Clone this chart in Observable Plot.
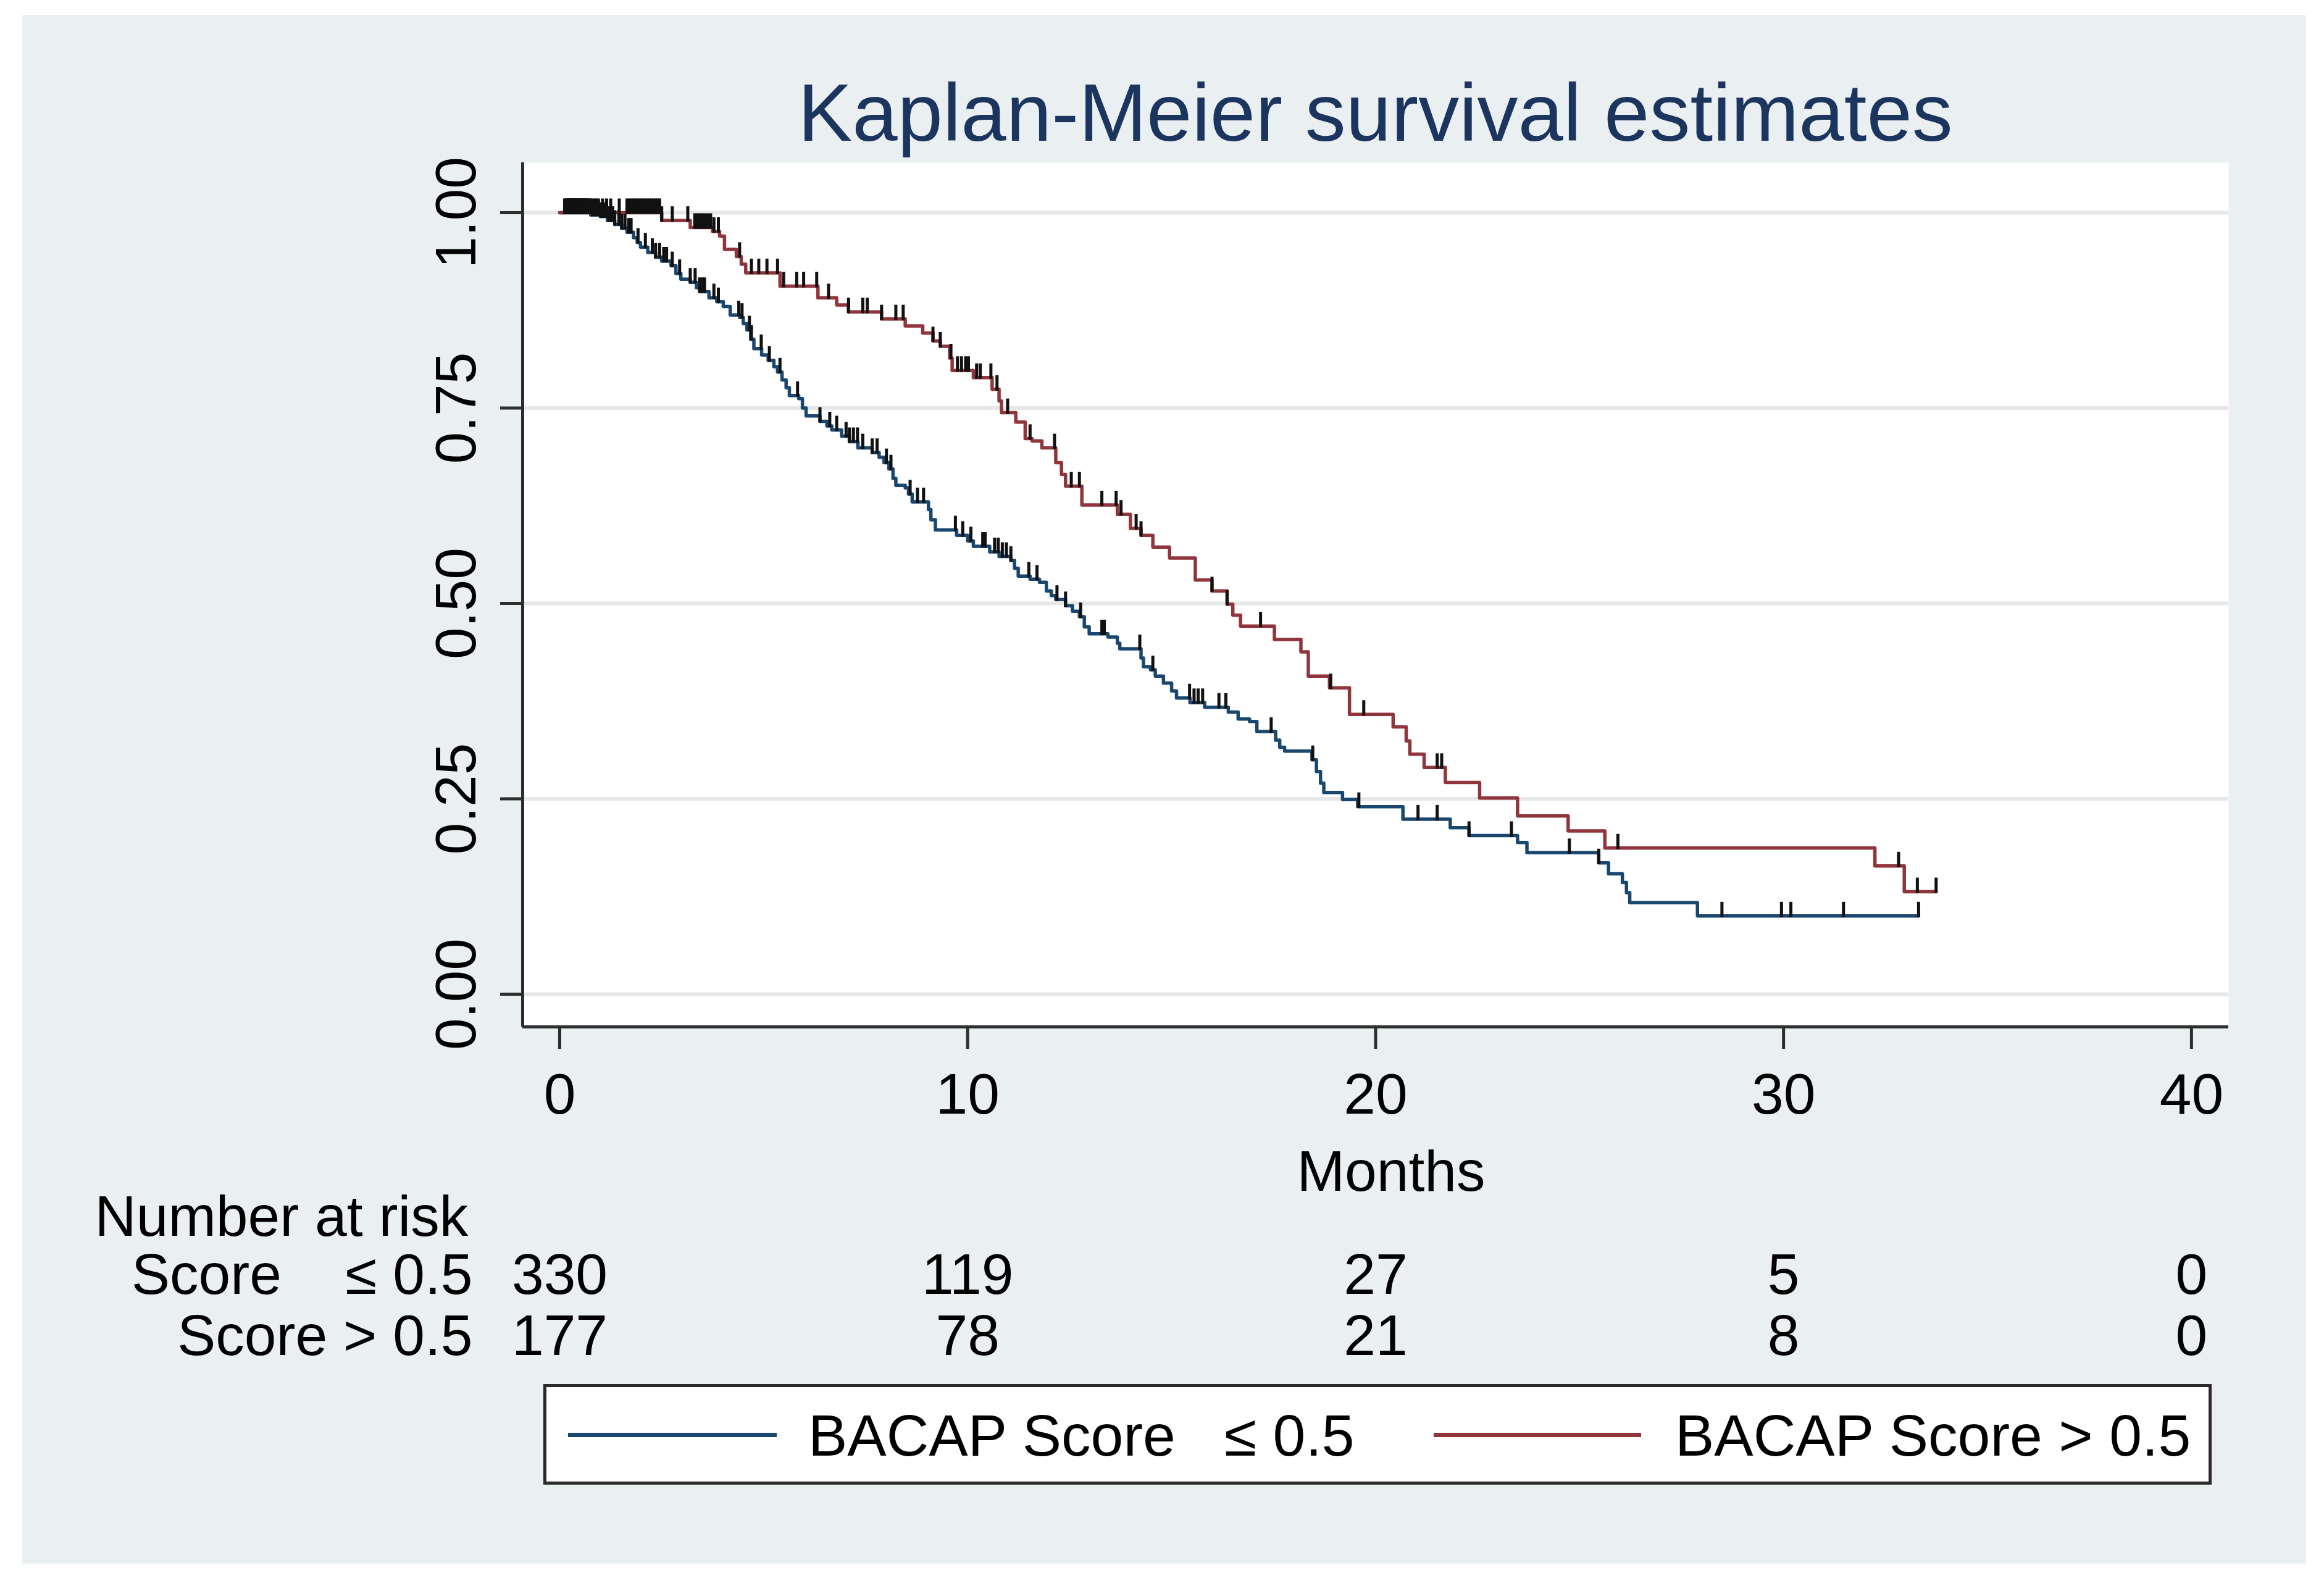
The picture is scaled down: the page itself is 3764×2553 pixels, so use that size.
<!DOCTYPE html>
<html>
<head>
<meta charset="utf-8">
<script src="https://cdn.jsdelivr.net/npm/d3@7"></script>
<script src="https://cdn.jsdelivr.net/npm/@observablehq/plot@0.6"></script>
<style>
  html, body { margin: 0; padding: 0; background: #fff; }
  #page { position: relative; width: 3764px; height: 2553px; background: #fff; overflow: hidden;
          font-family: "Liberation Sans", Arial, sans-serif; color: #000; }
  #panel { position: absolute; left: 36px; top: 24px; width: 3699px; height: 2509px; background: #eaf0f2; }
  #title { position: absolute; left: 846px; width: 2763px; top: 117px; text-align: center;
           font-size: 132px; line-height: 132px; color: #1c355e; white-space: pre; }
  #main, #risk { position: absolute; left: 0; }
  #main { top: 0; }
  #risk { top: 1930px; }
  #legend { position: absolute; left: 880px; top: 2242px; width: 2702px; height: 163px; box-sizing: border-box;
            border: 5px solid #2a2a2a; background: #fff; }
  .sw { position: absolute; height: 7px; top: 74px; }
  .lt { position: absolute; top: 31px; font-size: 95px; line-height: 95px; white-space: pre; }
  svg text { white-space: pre; }
</style>
</head>
<body>
<div id="page">
  <div id="panel"></div>
  <div id="title"></div>
  <div id="main"></div>
  <div id="risk"></div>
  <div id="legend"></div>
</div>
<script>
// ---------------- data ----------------
const titleText = "Kaplan-Meier survival estimates";
const xTitle = "Months";
const monthTicks = [0, 10, 20, 30, 40];
const survTicks = [0, 0.25, 0.5, 0.75, 1];

// BACAP Score <= 0.5 : step-after survival estimate (time in months, survival)
const lowT = [0, 0.76, 1.00, 1.17, 1.35, 1.52, 1.65, 1.81, 1.90, 1.98, 2.16, 2.35, 2.50, 2.73, 2.85, 2.97, 3.20, 3.35, 3.43, 3.66, 3.85, 4.01, 4.18, 4.41, 4.50, 4.59, 4.68, 4.76, 4.95, 5.11, 5.25, 5.34, 5.45, 5.55, 5.63, 5.86, 5.95, 6.04, 6.38, 6.55, 6.67, 6.91, 7.10, 7.31, 7.66, 7.83, 7.95, 8.07, 8.17, 8.24, 8.47, 8.55, 8.64, 9.04, 9.10, 9.21, 9.73, 10.00, 10.14, 10.54, 10.77, 11.06, 11.15, 11.24, 11.53, 11.76, 11.93, 12.05, 12.16, 12.40, 12.57, 12.74, 12.86, 12.98, 13.44, 13.67, 13.73, 14.25, 14.31, 14.48, 14.60, 14.80, 15.00, 15.12, 15.45, 15.81, 16.39, 16.63, 16.91, 17.09, 17.55, 17.65, 17.77, 18.44, 18.55, 18.65, 18.73, 19.19, 19.56, 20.67, 21.83, 22.29, 23.48, 23.71, 25.47, 25.71, 26.05, 26.15, 26.23, 27.89, 33.31];
const lowS = [1.000, 0.997, 0.995, 0.990, 0.985, 0.980, 0.975, 0.968, 0.962, 0.956, 0.949, 0.943, 0.938, 0.932, 0.922, 0.915, 0.911, 0.904, 0.899, 0.891, 0.886, 0.880, 0.869, 0.866, 0.858, 0.850, 0.838, 0.826, 0.818, 0.811, 0.803, 0.796, 0.786, 0.776, 0.766, 0.762, 0.750, 0.740, 0.733, 0.727, 0.722, 0.714, 0.707, 0.699, 0.693, 0.687, 0.680, 0.672, 0.660, 0.651, 0.648, 0.640, 0.630, 0.620, 0.607, 0.594, 0.587, 0.580, 0.573, 0.566, 0.560, 0.555, 0.545, 0.535, 0.531, 0.527, 0.516, 0.510, 0.505, 0.497, 0.490, 0.483, 0.470, 0.461, 0.457, 0.449, 0.442, 0.430, 0.419, 0.415, 0.407, 0.398, 0.388, 0.379, 0.373, 0.367, 0.361, 0.352, 0.349, 0.336, 0.325, 0.316, 0.311, 0.300, 0.285, 0.270, 0.258, 0.249, 0.240, 0.224, 0.213, 0.203, 0.194, 0.181, 0.168, 0.154, 0.143, 0.130, 0.117, 0.100, 0.100];
const lowCensored = [0.12, 0.17, 0.20, 0.23, 0.25, 0.28, 0.30, 0.33, 0.35, 0.38, 0.40, 0.43, 0.45, 0.48, 0.50, 0.53, 0.55, 0.58, 0.60, 0.63, 0.65, 0.70, 0.74, 0.80, 0.85, 0.90, 0.95, 1.00, 1.05, 1.10, 1.15, 1.20, 1.25, 1.30, 1.35, 1.45, 1.52, 1.60, 1.69, 1.75, 1.92, 2.10, 2.27, 2.35, 2.45, 2.55, 2.62, 2.76, 2.94, 3.20, 3.32, 3.43, 3.50, 3.55, 3.78, 3.89, 4.39, 4.47, 4.65, 4.70, 4.94, 5.14, 5.40, 5.83, 6.38, 6.62, 6.79, 7.02, 7.10, 7.20, 7.30, 7.43, 7.66, 7.78, 8.01, 8.12, 8.59, 8.77, 8.92, 9.70, 9.88, 10.08, 10.37, 10.43, 10.66, 10.75, 10.85, 10.95, 11.06, 11.50, 11.70, 12.19, 12.40, 12.77, 13.29, 13.35, 14.22, 14.54, 15.44, 15.55, 15.65, 15.76, 16.16, 16.33, 17.44, 18.46, 19.59, 21.04, 21.51, 22.29, 23.33, 24.75, 25.47, 28.49, 29.95, 30.18, 31.47, 33.31];

// BACAP Score > 0.5
const highT = [0, 2.50, 3.20, 3.75, 3.92, 4.04, 4.33, 4.45, 4.56, 5.40, 6.33, 6.79, 7.08, 7.89, 8.47, 8.90, 9.15, 9.33, 9.56, 9.62, 10.14, 10.60, 10.77, 10.83, 11.18, 11.41, 11.58, 11.82, 12.16, 12.30, 12.40, 12.80, 13.67, 13.99, 14.25, 14.54, 14.95, 15.58, 15.99, 16.36, 16.50, 16.69, 17.52, 18.17, 18.35, 18.87, 19.36, 20.43, 20.75, 20.84, 21.19, 21.71, 22.55, 23.48, 24.72, 25.62, 32.24, 32.96, 33.74];
const highS = [1.000, 0.990, 0.981, 0.976, 0.970, 0.953, 0.944, 0.934, 0.923, 0.906, 0.891, 0.882, 0.873, 0.864, 0.855, 0.846, 0.836, 0.829, 0.814, 0.798, 0.789, 0.774, 0.759, 0.744, 0.732, 0.711, 0.708, 0.699, 0.680, 0.665, 0.650, 0.626, 0.614, 0.596, 0.587, 0.572, 0.558, 0.530, 0.516, 0.499, 0.485, 0.471, 0.454, 0.438, 0.407, 0.392, 0.358, 0.342, 0.324, 0.307, 0.290, 0.271, 0.251, 0.228, 0.209, 0.187, 0.164, 0.131, 0.131];
const highCensored = [0.15, 0.20, 0.25, 0.28, 0.30, 0.33, 0.35, 0.38, 0.40, 0.43, 0.45, 0.48, 0.50, 0.55, 0.60, 0.65, 0.70, 0.75, 0.80, 0.85, 0.90, 0.95, 1.05, 1.15, 1.25, 1.46, 1.65, 1.70, 1.75, 1.80, 1.85, 1.90, 1.95, 2.00, 2.05, 2.10, 2.15, 2.20, 2.25, 2.30, 2.35, 2.40, 2.45, 2.50, 2.76, 3.14, 3.31, 3.36, 3.40, 3.45, 3.50, 3.55, 3.60, 3.65, 3.70, 3.78, 3.89, 4.41, 4.70, 4.88, 5.08, 5.34, 5.49, 5.81, 5.98, 6.30, 6.59, 7.08, 7.43, 7.54, 7.89, 8.24, 8.42, 9.15, 9.33, 9.59, 9.75, 9.85, 9.95, 10.02, 10.22, 10.31, 10.57, 10.72, 10.98, 11.53, 12.13, 12.54, 12.74, 13.29, 13.64, 13.76, 14.13, 14.25, 15.99, 16.36, 17.18, 18.90, 19.71, 21.51, 21.62, 25.94, 32.82, 33.28, 33.74];

// Number at risk
const riskHeader = "Number at risk";
const riskGroups = ["Score    \u2264 0.5", "Score > 0.5"];
const riskLow = [330, 119, 27, 5, 0];
const riskHigh = [177, 78, 21, 8, 0];

// Legend
const legendLabels = ["BACAP Score   \u2264 0.5", "BACAP Score > 0.5"];

// ---------------- styling ----------------
const colLow = "#1a476f";
const colHigh = "#90353b";
const axisCol = "#2e2e2e";
const font = "'Liberation Sans', Arial, sans-serif";
const fs = 93;

const xDomain = [-0.908, 40.91];
const yDomain = [-0.0419, 1.064];

// ---------------- build ----------------
const toSteps = (T, S) => T.map((t, i) => ({t, s: S[i]}));
const sAt = (T, S, t) => { let v = S[0]; for (let i = 0; i < T.length; i++) { if (T[i] <= t) v = S[i]; else break; } return v; };
const lowCurve = toSteps(lowT, lowS);
const highCurve = toSteps(highT, highS);
const lowCens = lowCensored.map(t => ({t, s: sAt(lowT, lowS, t)}));
const highCens = highCensored.map(t => ({t, s: sAt(highT, highS, t)}));

const censorSymbol = { draw(ctx) { ctx.moveTo(0, 2); ctx.lineTo(0, -23); } };

document.getElementById("title").textContent = titleText;

const main = Plot.plot({
  width: 3764,
  height: 1960,
  marginTop: 263,
  marginLeft: 846,
  marginRight: 155,
  marginBottom: 297,
  x: {domain: xDomain, axis: null},
  y: {domain: yDomain, axis: null},
  style: {background: "transparent", fontFamily: font, fontSize: fs + "px", color: "#000", overflow: "visible"},
  marks: [
    Plot.frame({fill: "#fff", stroke: "none"}),
    Plot.gridY(survTicks, {stroke: "#e6e8e8", strokeOpacity: 1, strokeWidth: 6}),
    Plot.ruleX([xDomain[0]], {stroke: axisCol, strokeWidth: 5}),
    Plot.ruleY([yDomain[0]], {stroke: axisCol, strokeWidth: 5}),
    Plot.axisX(monthTicks, {label: null, tickSize: 36, tickPadding: 38, stroke: axisCol, strokeWidth: 5, fontSize: fs}),
    Plot.axisY(survTicks, {label: null, tickSize: 36, tickFormat: () => "", stroke: axisCol, strokeWidth: 5}),
    Plot.text(survTicks, {y: d => d, text: d => d.toFixed(2), frameAnchor: "left", dx: -106, rotate: -90,
      textAnchor: "middle", lineAnchor: "middle", fontSize: fs}),
    Plot.text([xTitle], {text: d => d, frameAnchor: "bottom", dx: 25, dy: 236, lineAnchor: "middle", fontSize: fs}),
    Plot.line(lowCurve, {x: "t", y: "s", curve: "step-after", stroke: colLow, strokeWidth: 5.5}),
    Plot.line(highCurve, {x: "t", y: "s", curve: "step-after", stroke: colHigh, strokeWidth: 5.5}),
    Plot.dot(lowCens, {x: "t", y: "s", symbol: censorSymbol, fill: "none", stroke: "#111", strokeWidth: 5}),
    Plot.dot(highCens, {x: "t", y: "s", symbol: censorSymbol, fill: "none", stroke: "#111", strokeWidth: 5})
  ]
});
document.getElementById("main").append(main);

const riskData = [
  ...monthTicks.map((m, i) => ({t: m, g: riskGroups[0], n: riskLow[i]})),
  ...monthTicks.map((m, i) => ({t: m, g: riskGroups[1], n: riskHigh[i]}))
];
const risk = Plot.plot({
  width: 3764,
  height: 300,
  marginTop: 136,
  marginBottom: 65,
  marginLeft: 846,
  marginRight: 155,
  x: {domain: xDomain, axis: null},
  y: {type: "point", domain: riskGroups, padding: 0, axis: null},
  style: {background: "transparent", fontFamily: font, fontSize: fs + "px", color: "#000", overflow: "visible"},
  marks: [
    Plot.text(riskData, {x: "t", y: "g", text: d => String(d.n), lineAnchor: "middle", fontSize: fs}),
    Plot.text(riskGroups, {y: d => d, text: d => d, frameAnchor: "left", dx: -81, textAnchor: "end", lineAnchor: "middle", fontSize: fs}),
    Plot.text([riskHeader], {text: d => d, frameAnchor: "top-left", dx: -693, dy: -94, textAnchor: "start", lineAnchor: "middle", fontSize: fs})
  ]
});
document.getElementById("risk").append(risk);

// legend
const legend = document.getElementById("legend");
const legendItems = [
  {label: legendLabels[0], color: colLow, sw: 35, sww: 338, tx: 424},
  {label: legendLabels[1], color: colHigh, sw: 1437, sww: 336, tx: 1828}
];
legendItems.forEach(it => {
  const s = document.createElement("div");
  s.className = "sw"; s.style.left = it.sw + "px"; s.style.width = it.sww + "px"; s.style.background = it.color;
  const t = document.createElement("div");
  t.className = "lt"; t.style.left = it.tx + "px"; t.textContent = it.label;
  legend.append(s, t);
});
</script>
</body>
</html>
